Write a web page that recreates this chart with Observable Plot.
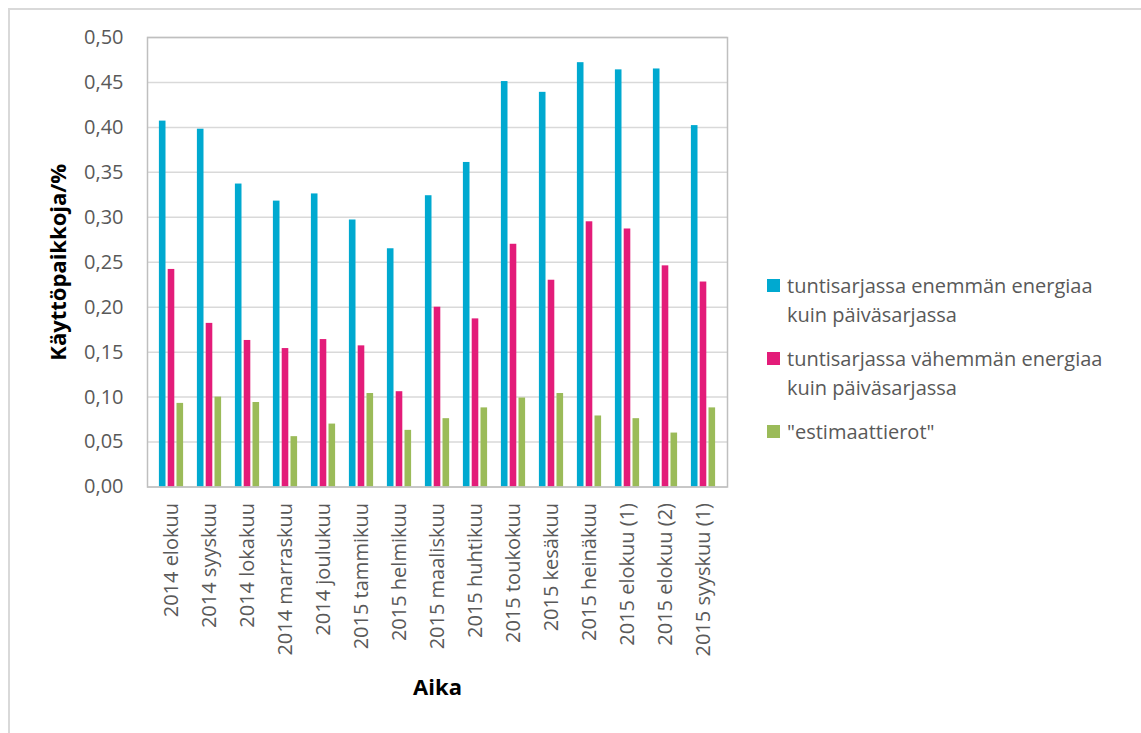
<!DOCTYPE html>
<html>
<head>
<meta charset="utf-8">
<script src="https://cdn.jsdelivr.net/npm/d3@7"></script>
<script src="https://cdn.jsdelivr.net/npm/@observablehq/plot@0.6"></script>
<style>
  html, body { margin: 0; padding: 0; background: #fff; }
  #wrap { position: relative; width: 1141px; height: 733px; overflow: hidden; font-family: "Open Sans", sans-serif; }
  #border { position: absolute; left: 8px; top: 8px; width: 1200px; height: 800px; border-top: 2px solid #d9d9d9; border-left: 2px solid #d9d9d9; }
  #chart { position: absolute; left: 0; top: 0; }
  #chart svg { overflow: visible; }
  [aria-label="y-axis label"] text, [aria-label="x-axis label"] text { font-weight: bold; fill: #000; font-size: 22px; }
  #legend { position: absolute; left: 767px; top: 271px; color: #595959; font-size: 20px; line-height: 29px; }
  .item { position: relative; padding-left: 20px; width: 345px; margin-bottom: 15px; }
  .sw { position: absolute; left: 0; top: 8px; width: 13px; height: 13px; }
</style>
</head>
<body>
<div id="wrap">
  <div id="border"></div>
  <div id="chart"></div>
  <div id="legend"></div>
</div>
<script>
const months = ["2014 elokuu", "2014 syyskuu", "2014 lokakuu", "2014 marraskuu", "2014 joulukuu",
  "2015 tammikuu", "2015 helmikuu", "2015 maaliskuu", "2015 huhtikuu", "2015 toukokuu",
  "2015 kesäkuu", "2015 heinäkuu", "2015 elokuu (1)", "2015 elokuu (2)", "2015 syyskuu (1)"];
const seriesNames = ["tuntisarjassa enemmän energiaa kuin päiväsarjassa",
  "tuntisarjassa vähemmän energiaa kuin päiväsarjassa",
  "\"estimaattierot\""];
const seriesColors = ["#00a9d0", "#e31c79", "#9bbb59"];
const more = [0.407, 0.398, 0.337, 0.318, 0.326, 0.297, 0.265, 0.324, 0.361, 0.451, 0.439, 0.472, 0.464, 0.465, 0.402];
const less = [0.242, 0.182, 0.163, 0.154, 0.164, 0.157, 0.106, 0.200, 0.187, 0.270, 0.230, 0.295, 0.287, 0.246, 0.228];
const estim = [0.093, 0.100, 0.094, 0.056, 0.070, 0.104, 0.063, 0.076, 0.088, 0.099, 0.104, 0.079, 0.076, 0.060, 0.088];
const yTicks = [0, 0.05, 0.1, 0.15, 0.2, 0.25, 0.3, 0.35, 0.4, 0.45, 0.5];

const rows = months.map((m, i) => ({month: m, more: more[i], less: less[i], estim: estim[i]}));
const keys = ["more", "less", "estim"];
const step = 8.8;
const inset = 15.7;

const fmt = d => d.toFixed(2).replace(".", ",");

const plot = Plot.plot({
  width: 1141,
  height: 733,
  marginLeft: 147,
  marginRight: 414,
  marginTop: 37,
  marginBottom: 246.5,
  style: { fontFamily: "Open Sans, sans-serif", fontSize: "20px", color: "#595959", background: "transparent" },
  x: { domain: months, padding: 0, label: null },
  y: { domain: [0, 0.5], label: null },
  marks: [
    Plot.gridY(yTicks, { stroke: "#d9d9d9", strokeOpacity: 1, strokeWidth: 1.5 }),
    ...keys.map((k, j) => Plot.barY(rows, {
      x: "month", y: k, fill: seriesColors[j],
      dx: (j - 1) * step, insetLeft: inset, insetRight: inset
    })),
    Plot.frame({ stroke: "#bfbfbf", strokeWidth: 1.5 }),
    Plot.axisY(yTicks, { tickSize: 0, tickPadding: 24, tickFormat: fmt, fill: "#595959",
      label: "Käyttöpaikkoja/%", labelAnchor: "center", labelOffset: 97, labelArrow: "none" }),
    Plot.axisX({ tickSize: 0, tickPadding: 16, tickRotate: -90, fill: "#595959",
      label: "Aika", labelAnchor: "center", labelOffset: 208, labelArrow: "none" })
  ]
});
document.getElementById("chart").appendChild(plot);

const legend = document.getElementById("legend");
seriesNames.forEach((name, j) => {
  const item = document.createElement("div");
  item.className = "item";
  const sw = document.createElement("span");
  sw.className = "sw";
  sw.style.background = seriesColors[j];
  item.appendChild(sw);
  item.appendChild(document.createTextNode(name));
  legend.appendChild(item);
});
</script>
</body>
</html>
